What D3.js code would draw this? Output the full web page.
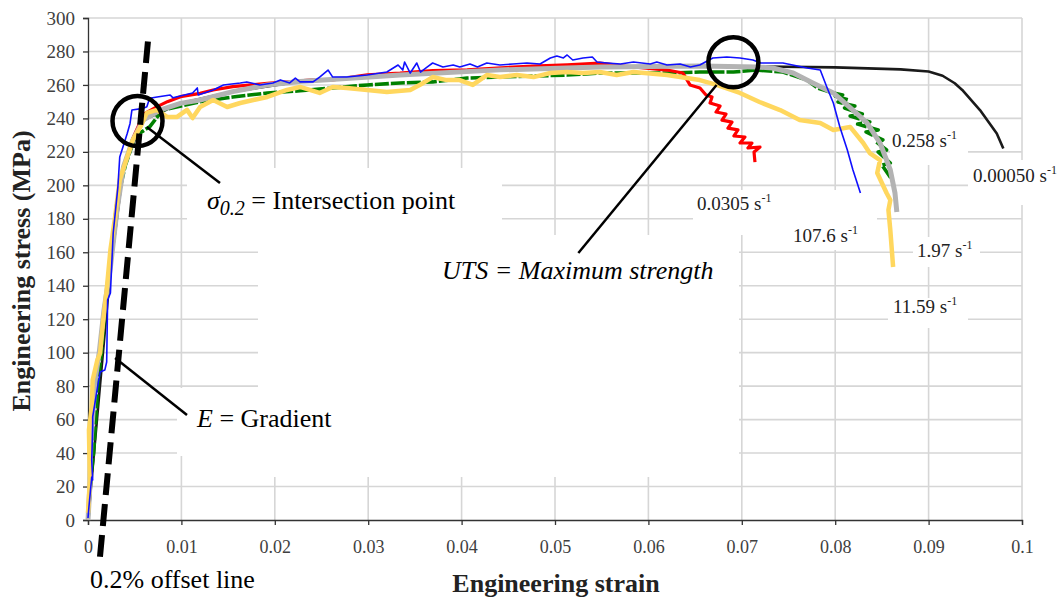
<!DOCTYPE html>
<html>
<head>
<meta charset="utf-8">
<script src="https://cdn.jsdelivr.net/npm/d3@7"></script>
<style>
body { margin: 0; background: #fff; }
text { font-family: "Liberation Serif", "Times New Roman", serif; }
</style>
</head>
<body>
<div id="chart"></div>
<script>
// axis ticks
var strainTicks = [0, 0.01, 0.02, 0.03, 0.04, 0.05, 0.06, 0.07, 0.08, 0.09, 0.1];
var strainTickLabels = ['0', '0.01', '0.02', '0.03', '0.04', '0.05', '0.06', '0.07', '0.08', '0.09', '0.1'];
var stressTicks = [0, 20, 40, 60, 80, 100, 120, 140, 160, 180, 200, 220, 240, 260, 280, 300];

// curves, [strain, stress MPa]
var black00050 = [[0,0],[0.0024,150],[0.0038,211],[0.0059,239],[0.0099,249],[0.0155,256],[0.0227,262],[0.0334,266],
  [0.0441,269],[0.0548,270.7],[0.0655,271.3],[0.072,271],[0.08,270.5],[0.087,269.3],[0.09,268],[0.0915,265.5],
  [0.0928,261],[0.0936,257],[0.0955,245],[0.0973,231],[0.098,222]];

var green0258 = [[0,0],[0.0003,25],[0.0006,40],[0.0009,66],[0.0011,84],[0.0014,98],[0.0018,125],[0.0025,160],
  [0.0031,190],[0.004,212],[0.0048,225],[0.0052,230],[0.0066,235],[0.008,245],[0.012,250],[0.0155,252.8],
  [0.0192,255.2],[0.0227,256.5],[0.0262,258.2],[0.0299,260],[0.0334,261.2],[0.0369,261.8],[0.0406,264.1],
  [0.0441,264.7],[0.0476,265.3],[0.0513,265.9],[0.0548,267.1],[0.0584,267.1],[0.062,267.1],[0.0655,267.7],
  [0.0691,267.7],[0.0716,268.9],[0.0744,267.7],[0.077,262.9],[0.0781,258.2],[0.0798,255.2],[0.0808,254],
  [0.08,253.4],[0.0814,251],[0.0803,249.8],[0.0821,247.4],[0.081,246.2],[0.0829,242.6],[0.0816,241.4],
  [0.0837,237.8],[0.0824,236.6],[0.0846,233.1],[0.0833,231.9],[0.0851,227.1],[0.0844,225.9],[0.0855,221.1],
  [0.0846,219.9],[0.0859,213.3],[0.085,212.1],[0.0861,203.2]];

var red0305 = [[0,0],[0.0002,20],[0.0003,45],[0.0006,70],[0.0008,85],[0.0012,100],[0.0017,125],[0.0024,151],
  [0.0031,185],[0.0038,211],[0.0048,228],[0.0056,238],[0.0061,243],[0.0074,247],[0.0085,250],[0.0099,253],[0.012,255],
  [0.0134,257],[0.0155,259],[0.0192,261],[0.0241,263],[0.0262,263],[0.0299,266],[0.0334,267],[0.0369,268.5],
  [0.0406,269],[0.0476,271.3],[0.0513,272],[0.0548,273],[0.0584,270.7],[0.062,268.9],[0.0637,267.1],
  [0.06445,260],[0.06552,258.2],[0.06617,254],[0.06681,252.8],[0.0666,249.2],[0.06767,247.4],[0.06724,243.8],
  [0.06831,242.6],[0.06788,239],[0.06895,237.8],[0.06852,234.2],[0.06959,233.1],[0.06916,229.5],[0.07034,228.9],
  [0.06981,225.3],[0.07109,225.3],[0.07066,222.3],[0.07195,222.9],[0.07131,219.9],[0.07141,213.9]];

var gray197 = [[0,0],[0.0002,20],[0.0003,45],[0.0006,70],[0.0008,85],[0.0012,100],[0.0017,125],[0.0024,151],
  [0.0031,185],[0.0038,211],[0.0048,227],[0.0059,239],[0.0077,245],[0.0099,249],[0.012,251],[0.0155,256],
  [0.0192,260],[0.0227,262],[0.0334,266],[0.0441,269],[0.0548,270.7],[0.0655,271.3],[0.0716,270.7],
  [0.0733,270.1],[0.0755,267.1],[0.0776,261.2],[0.0798,255.2],[0.0819,245],[0.0834,237.3],[0.0848,225.3],
  [0.0859,209.2],[0.0864,195.4],[0.0866,184.1]];

var yellow1159 = [[0,4.2],[0.0002,23.9],[0.0001,53.8],[0.0004,67.5],[0.0005,83.7],[0.001,95.6],[0.0013,99.8],
  [0.0016,117.7],[0.002,137.4],[0.0024,161.4],[0.0029,181.1],[0.0034,203.2],[0.0042,216.9],[0.0048,227.1],
  [0.0056,234.9],[0.0063,243.3],[0.0074,245.1],[0.0085,240.8],[0.0095,240.8],[0.0106,245.1],[0.0112,240.2],
  [0.012,246.8],[0.0134,251],[0.0149,246.8],[0.0163,249.2],[0.0177,251],[0.0192,252.8],[0.0213,257],
  [0.0227,258.8],[0.0248,255.2],[0.0262,258.8],[0.0277,258.2],[0.0299,257],[0.032,255.8],[0.0345,257],
  [0.0359,261.2],[0.0369,264.7],[0.0384,262.9],[0.0398,262.9],[0.0412,260],[0.0427,265.9],[0.0441,264.7],
  [0.0459,265.9],[0.0477,264.7],[0.0495,267.1],[0.0513,267.7],[0.053,267.1],[0.0548,267.7],[0.0566,265.9],
  [0.0584,267.7],[0.062,265.9],[0.0655,262.9],[0.0673,260],[0.0698,255.2],[0.0719,249.8],[0.0741,245],
  [0.0762,239],[0.0784,237.3],[0.0798,233.1],[0.0816,234.9],[0.083,225.3],[0.0837,219.3],[0.0848,215.1],
  [0.0845,207.4],[0.0855,195.4],[0.0859,191.2],[0.0857,185.3],[0.0859,173.3],[0.0862,151.2]];

var blue1076 = [[0,1.2],[0.0001,7.8],[0.0004,25.7],[0.0005,23.9],[0.0004,35.9],[0.0005,53.8],[0.0005,61.6],
  [0.0011,81.9],[0.0013,88.4],[0.0018,89.6],[0.002,94.4],[0.0021,131.5],[0.0024,135.7],[0.0027,171.5],
  [0.0032,199],[0.0034,217],[0.0042,231],[0.0045,237],[0.0047,245],[0.0059,246],[0.0063,247],[0.0066,252],
  [0.0074,252.8],[0.0088,254],[0.0091,252.3],[0.0112,255.2],[0.0117,258.2],[0.0118,254],[0.0134,257],
  [0.0145,260],[0.0163,261.2],[0.017,261.8],[0.0184,260],[0.0198,261.2],[0.0206,263],[0.0216,261.2],
  [0.0222,264.1],[0.0227,261.8],[0.0241,261.8],[0.0248,264.7],[0.0257,268.9],[0.0262,264.7],[0.0277,264.7],
  [0.0299,265.9],[0.032,267.7],[0.0332,271.9],[0.0337,268.9],[0.0339,273.7],[0.0345,267.1],[0.0352,273.1],
  [0.0356,267.7],[0.0363,270.7],[0.0369,273.1],[0.038,270.7],[0.0391,271.9],[0.0398,270.7],[0.0409,272.5],
  [0.0417,270.7],[0.0427,273.1],[0.0441,271.9],[0.0455,272.5],[0.047,273.1],[0.0484,272.5],[0.0495,276.1],
  [0.0502,277.3],[0.0509,276.1],[0.0513,277.9],[0.0519,274.9],[0.053,276.1],[0.054,276.7],[0.0545,273.7],
  [0.0556,273.1],[0.057,272.5],[0.0584,273.7],[0.0602,272.5],[0.0609,273.7],[0.062,271.9],[0.0634,272.5],
  [0.0645,270.7],[0.0655,271.9],[0.0669,276.1],[0.0684,276.7],[0.0698,276.1],[0.0712,274.9],[0.072,273.1],
  [0.0733,273.1],[0.0744,273.1],[0.077,270.1],[0.0784,268.9],[0.0791,258.8],[0.0798,249.2],[0.0805,234.9],
  [0.0813,221.1],[0.0819,209.2],[0.0827,195.4]];

// strain-rate labels
var rateLabels = ['0.00050', '0.0305', '0.258', '1.97', '11.59', '107.6'];

// 0.2 % offset line: offset strain, modulus (MPa), stress range
var offsetStrain = 0.00165;
var offsetModulus = 60000;
var offsetStress = [-22, 286];

// annotation marks in data units
var sigmaPoint = [0.0053, 238.4];
var utsPoint = [0.0691, 273.5];
var sigmaLeader = [[0.0063, 234.9], [0.01413, 201.4]];
var eLeader = [[0.0029, 96.8], [0.0106, 62.7]];
var utsLeader = [[0.0673, 260], [0.0525, 159.6]];

var width = 1059, height = 599;

var svg = d3.select('#chart').append('svg')
    .attr('width', width)
    .attr('height', height);

var x = d3.scaleLinear().domain([0, 0.1]).range([88, 1022]);
var y = d3.scaleLinear().domain([0, 300]).range([520, 18]);

// gridlines
svg.append('g').selectAll('line')
    .data(stressTicks.slice(1))
    .enter().append('line')
    .attr('x1', x(0)).attr('x2', x(0.1))
    .attr('y1', function (d) { return y(d); })
    .attr('y2', function (d) { return y(d); })
    .style('stroke', '#d6d6d6').style('stroke-width', 1.6);
svg.append('g').selectAll('line')
    .data(strainTicks.slice(1))
    .enter().append('line')
    .attr('x1', function (d) { return x(d); })
    .attr('x2', function (d) { return x(d); })
    .attr('y1', y(0)).attr('y2', y(300))
    .style('stroke', '#d6d6d6').style('stroke-width', 1.6);

// white text boxes that cover the grid
var masks = [[187,168,315,67],[258,235,481,242],[177,388,165,68],[693,190,184,45],[775,220,90,30],
    [913,237,67,30],[888,298,80,30],[890,120,78,45],[968,160,91,45]];
svg.append('g').selectAll('rect')
    .data(masks)
    .enter().append('rect')
    .attr('x', function (d) { return d[0]; })
    .attr('y', function (d) { return d[1]; })
    .attr('width', function (d) { return d[2]; })
    .attr('height', function (d) { return d[3]; })
    .style('fill', '#fff');

// axes
var xAxis = d3.axisBottom(x).tickValues(strainTicks)
    .tickFormat(function (d, i) { return strainTickLabels[i]; })
    .tickSize(5).tickPadding(15);
var yAxis = d3.axisLeft(y).tickValues(stressTicks).tickSize(5).tickPadding(8);

var gx = svg.append('g').attr('transform', 'translate(0,' + y(0) + ')').call(xAxis);
var gy = svg.append('g').attr('transform', 'translate(' + x(0) + ',0)').call(yAxis);
[gx, gy].forEach(function (g) {
    g.select('.domain').style('stroke', '#333').style('stroke-width', 1.3);
    g.selectAll('.tick line').style('stroke', '#333').style('stroke-width', 1.3);
    g.selectAll('.tick text').style('fill', '#404040')
        .style('font-family', '"Liberation Serif", "Times New Roman", serif');
});
gx.selectAll('.tick text').style('font-size', '18px');
gy.selectAll('.tick text').style('font-size', '19px');

// curves
var line = d3.line()
    .x(function (d) { return x(d[0]); })
    .y(function (d) { return y(d[1]); });

var series = [
    { data: black00050, color: '#1a1a1a', w: 2.6 },
    { data: green0258, color: '#008000', w: 3.6, dash: '14,2' },
    { data: red0305, color: '#ff0000', w: 3.2 },
    { data: gray197, color: '#b3b3b3', w: 5 },
    { data: yellow1159, color: '#ffd75e', w: 4.5 },
    { data: blue1076, color: '#1010ff', w: 1.6 }
];
svg.append('g').selectAll('path')
    .data(series)
    .enter().append('path')
    .attr('d', function (d) { return line(d.data); })
    .style('fill', 'none')
    .style('stroke', function (d) { return d.color; })
    .style('stroke-width', function (d) { return d.w; })
    .style('stroke-dasharray', function (d) { return d.dash || null; })
    .style('stroke-linejoin', 'round');

// 0.2% offset line
svg.append('line')
    .attr('x1', x(offsetStrain + offsetStress[0] / offsetModulus)).attr('y1', y(offsetStress[0]))
    .attr('x2', x(offsetStrain + offsetStress[1] / offsetModulus)).attr('y2', y(offsetStress[1]))
    .style('stroke', '#000').style('stroke-width', 6).style('stroke-dasharray', '22,9');

// circles and leaders
[sigmaPoint, utsPoint].forEach(function (p) {
    svg.append('circle')
        .attr('cx', x(p[0])).attr('cy', y(p[1])).attr('r', 25)
        .style('fill', 'none').style('stroke', '#000').style('stroke-width', 4.5);
});
[sigmaLeader, eLeader, utsLeader].forEach(function (l) {
    svg.append('line')
        .attr('x1', x(l[0][0])).attr('y1', y(l[0][1]))
        .attr('x2', x(l[1][0])).attr('y2', y(l[1][1]))
        .style('stroke', '#000').style('stroke-width', 2.5);
});

// annotation text
var t1 = svg.append('text').attr('x', 207).attr('y', 209).style('font-size', '26px');
t1.append('tspan').style('font-style', 'italic').text('σ');
t1.append('tspan').style('font-style', 'italic').style('font-size', '20px').attr('dy', 6).text('0.2');
t1.append('tspan').attr('dy', -6).text(' = Intersection point');

svg.append('text').attr('x', 442).attr('y', 279)
    .style('font-size', '26px').style('font-style', 'italic')
    .text('UTS = Maximum strength');

var t3 = svg.append('text').attr('x', 197).attr('y', 427).style('font-size', '26px');
t3.append('tspan').style('font-style', 'italic').text('E');
t3.append('tspan').text(' = Gradient');

svg.append('text').attr('x', 90).attr('y', 588).style('font-size', '26px').text('0.2% offset line');

// strain-rate labels
var ratePos = [[973, 182], [697, 210], [892, 147], [917, 257], [893, 313], [793, 242]];
rateLabels.forEach(function (r, i) {
    var t = svg.append('text').attr('x', ratePos[i][0]).attr('y', ratePos[i][1])
        .style('font-size', '19px').style('fill', '#222');
    t.append('tspan').text(r + ' s');
    t.append('tspan').style('font-size', '12px').attr('dy', -8).text('-1');
});

// axis titles
svg.append('text')
    .attr('transform', 'translate(30,271) rotate(-90)')
    .attr('text-anchor', 'middle')
    .style('font-size', '26px').style('font-weight', 'bold').style('fill', '#222')
    .text('Engineering stress (MPa)');
svg.append('text')
    .attr('x', 556).attr('y', 592)
    .attr('text-anchor', 'middle')
    .style('font-size', '26px').style('font-weight', 'bold').style('fill', '#222')
    .text('Engineering strain');
</script>
</body>
</html>
